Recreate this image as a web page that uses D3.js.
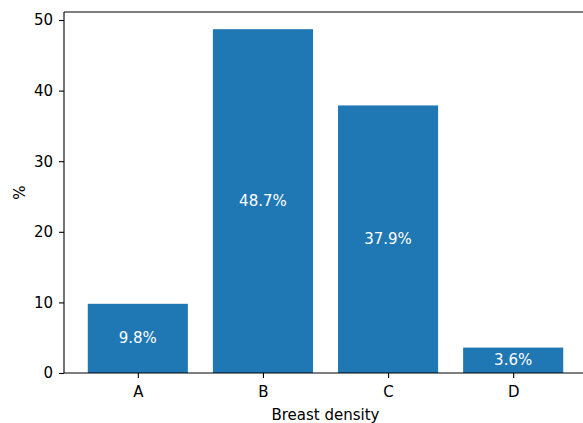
<!DOCTYPE html>
<html>
<head>
<meta charset="utf-8">
<script src="https://cdn.jsdelivr.net/npm/d3@7"></script>
<style>
  body { margin: 0; background: #fff; }
  svg text { font-family: "DejaVu Sans", sans-serif; }
</style>
</head>
<body>
<svg id="chart"></svg>
<script>
// chart data
const categories = ["A", "B", "C", "D"];
const percents = [9.8, 48.7, 37.9, 3.6];
const yTicks = [0, 10, 20, 30, 40, 50];

const width = 583, height = 423;
const margin = {top: 12, left: 64, bottom: 50};
const plotRight = 587; // axes extend slightly past the cropped figure edge

const svg = d3.select('#chart')
    .attr('width', width)
    .attr('height', height);

const x = d3.scaleLinear()
    .domain([-0.59, categories.length - 1 + 0.59])
    .range([margin.left, plotRight]);

const y = d3.scaleLinear()
    .domain([0, d3.max(percents) * 1.05])
    .range([height - margin.bottom, margin.top]);

const barW = x(0.8) - x(0);

// bars
svg.append('g')
    .selectAll('rect')
    .data(percents)
    .join('rect')
    .attr('x', (d, i) => x(i) - barW / 2)
    .attr('y', d => y(d))
    .attr('width', barW)
    .attr('height', d => y(0) - y(d))
    .attr('fill', '#1f77b4');

// value labels in the middle of each bar
svg.append('g')
    .selectAll('text')
    .data(percents)
    .join('text')
    .attr('x', (d, i) => x(i))
    .attr('y', d => (y(d) + y(0)) / 2)
    .attr('text-anchor', 'middle')
    .attr('dominant-baseline', 'central')
    .attr('fill', '#fff')
    .style('font-size', '15px')
    .text(d => d.toFixed(1) + '%');

// axes
const xAxis = d3.axisBottom(x)
    .tickValues(d3.range(categories.length))
    .tickFormat(i => categories[i])
    .tickSizeOuter(0)
    .tickSize(5)
    .tickPadding(8);

const yAxis = d3.axisLeft(y)
    .tickValues(yTicks)
    .tickSizeOuter(0)
    .tickSize(5)
    .tickPadding(6);

const xG = svg.append('g')
    .attr('transform', `translate(0,${y(0)})`)
    .call(xAxis);

const yG = svg.append('g')
    .attr('transform', `translate(${margin.left},0)`)
    .call(yAxis);

[xG, yG].forEach(g => {
    g.select('.domain').remove();
    g.selectAll('line').attr('stroke', '#000').attr('stroke-width', 1.1);
    g.selectAll('text').style('font-size', '15px').attr('fill', '#000');
});

// spines: left, bottom, top
const spine = svg.append('g')
    .attr('stroke', '#000')
    .attr('stroke-width', 1.1)
    .attr('fill', 'none');
spine.append('line').attr('x1', margin.left).attr('x2', margin.left)
    .attr('y1', y.range()[1]).attr('y2', y.range()[0]);
spine.append('line').attr('x1', margin.left).attr('x2', plotRight)
    .attr('y1', y.range()[0]).attr('y2', y.range()[0]);
spine.append('line').attr('x1', margin.left).attr('x2', plotRight)
    .attr('y1', y.range()[1]).attr('y2', y.range()[1]);

// axis titles
svg.append('text')
    .attr('x', (margin.left + plotRight) / 2)
    .attr('y', 420)
    .attr('text-anchor', 'middle')
    .style('font-size', '15px')
    .text('Breast density');

svg.append('text')
    .attr('transform', `translate(25,${(y.range()[0] + y.range()[1]) / 2}) rotate(-90)`)
    .attr('text-anchor', 'middle')
    .style('font-size', '15px')
    .text('%');
</script>
</body>
</html>
